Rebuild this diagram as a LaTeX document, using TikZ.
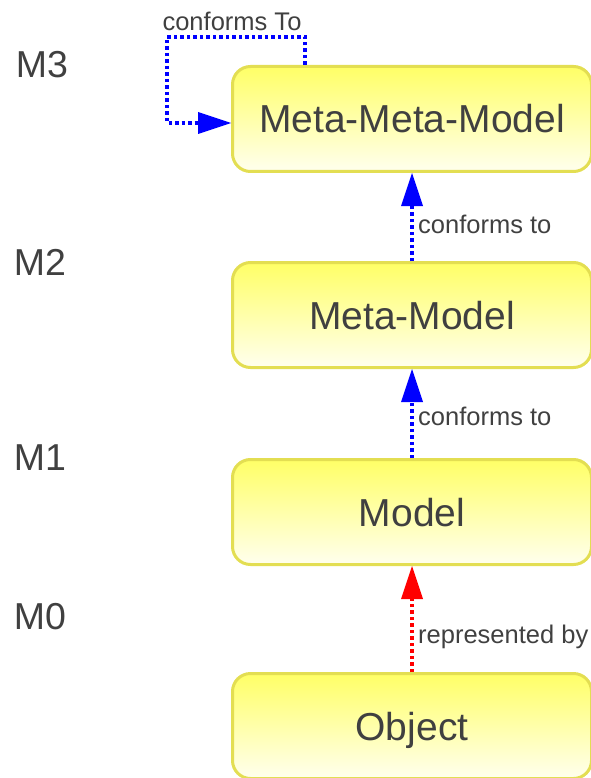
\documentclass[tikz,border=0pt]{standalone}
\usepackage{fontspec}
\setmainfont{Liberation Sans}
\usetikzlibrary{arrows.meta}
\definecolor{txt}{HTML}{404040}
\definecolor{bord}{HTML}{E3DE52}
\definecolor{ytop}{HTML}{FFFF66}
\definecolor{ybot}{HTML}{FFFFEE}
\tikzset{
  box/.style={draw=bord, line width=3pt, rounded corners=18pt, top color=ytop, bottom color=ybot,
    minimum width=359pt, minimum height=105pt, text=txt, font=\fontsize{39}{45}\selectfont, inner sep=0pt,
    text height=28pt, text depth=0pt},
  level/.style={text=txt, font=\fontsize{37.5}{42}\selectfont, inner sep=0pt},
  elabel/.style={text=txt, font=\fontsize{25.5}{30}\selectfont, inner sep=0pt},
  conn/.style={line width=3.5pt, dash pattern=on 3.5pt off 3pt},
  blueconn/.style={conn, draw=blue, -{Triangle[width=22pt,length=33pt,fill=blue,line width=0pt]}},
  redconn/.style={conn, draw=red, -{Triangle[width=22pt,length=33pt,fill=red,line width=0pt]}},
}
\begin{document}
\begin{tikzpicture}[x=1pt,y=-1pt]
\useasboundingbox (0,0) rectangle (590,778);
\node[box] (mmm) at (412,119) {Meta-Meta-Model};
\node[box] (mm) at (412,315) {Meta-Model};
\node[box] (m) at (412,512) {Model};
\node[box] (obj) at (412,726) {Object};
\node[level] (m3) at (42,65) {M3};
\node[level] (m2) at (40,262) {M2};
\node[level] (m1) at (40,458) {M1};
\node[level] (m0) at (40,617) {M0};
\coordinate (la) at (305,37);
\coordinate (lb) at (167,37);
\coordinate (lc) at (167,123);
\draw[blueconn] ([xshift=-107pt]mmm.north) -- (la) -- (lb) -- (lc) -- (mmm.west |- lc);
\node[elabel] (lt) at (232,21) {conforms To};
\draw[blueconn] (mm.north) -- (mmm.south);
\node[elabel, anchor=west] (l1) at (418,224) {conforms to};
\draw[blueconn] (m.north) -- (mm.south);
\node[elabel, anchor=west] (l2) at (418,416) {conforms to};
\draw[redconn] (obj.north) -- (m.south);
\node[elabel, anchor=west] (l3) at (418,637) {represented by};
\end{tikzpicture}
\end{document}
